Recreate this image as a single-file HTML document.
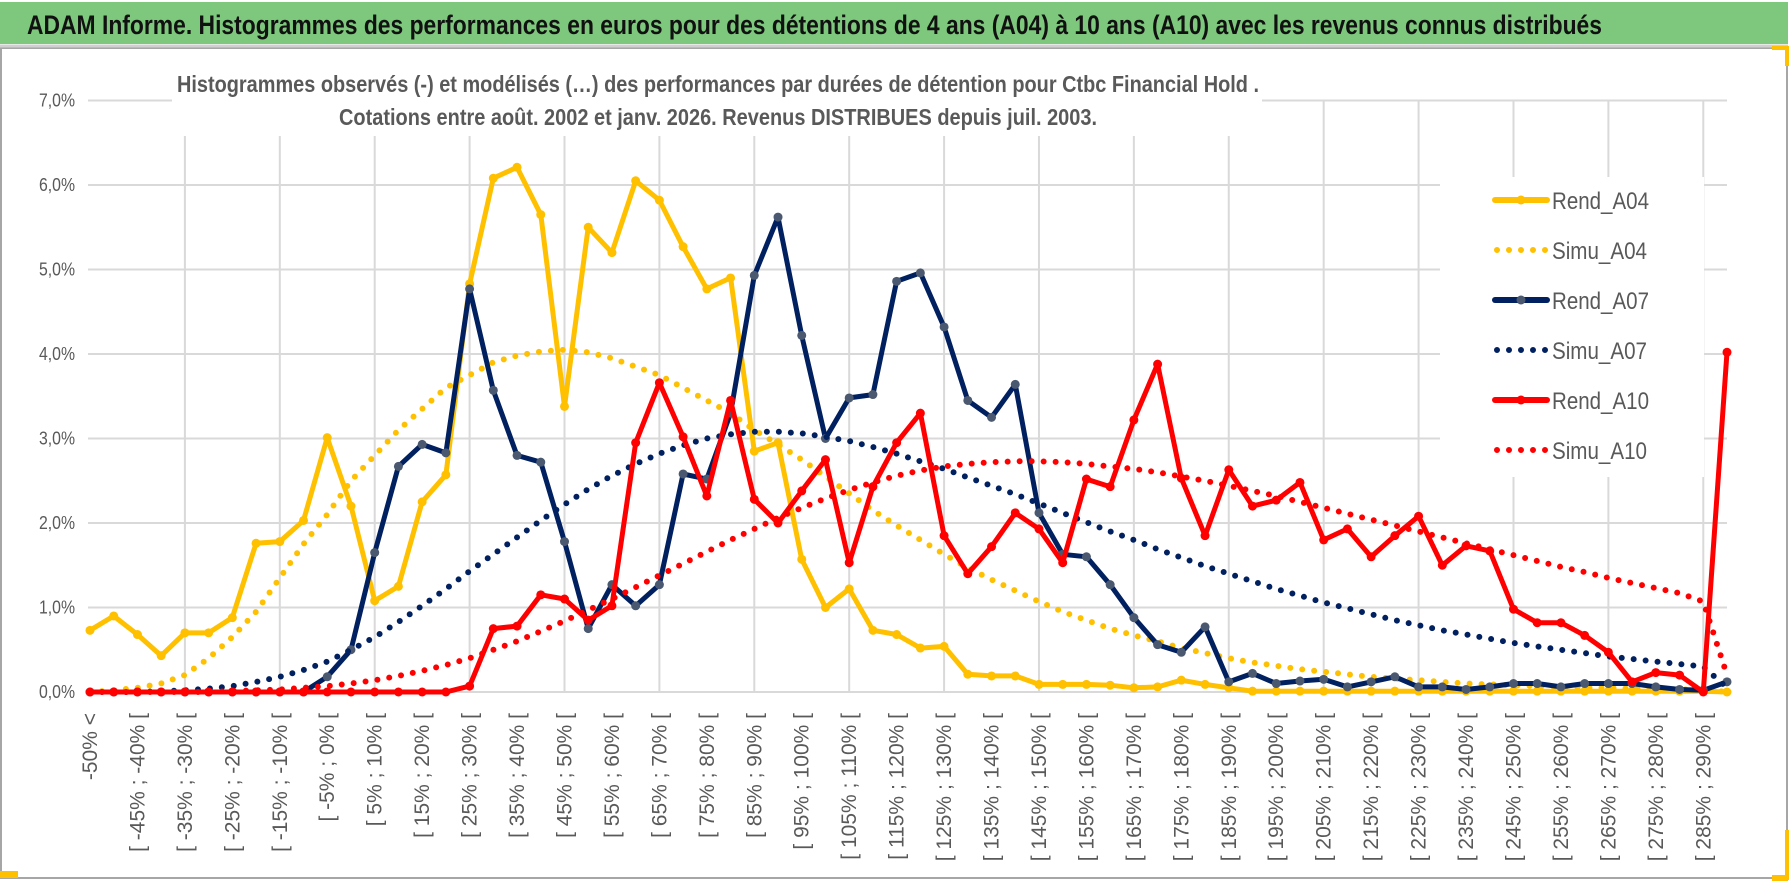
<!DOCTYPE html>
<html><head><meta charset="utf-8"><style>
html,body{margin:0;padding:0;background:#fff;}
svg{display:block;font-family:"Liberation Sans",sans-serif;}
</style></head><body>
<svg id="chart" width="1790" height="888" viewBox="0 0 1790 888">
<rect x="0" y="0" width="1790" height="888" fill="#fff"/>
<rect x="1" y="48" width="1786" height="830" fill="#fff" stroke="#a6a6a6" stroke-width="2"/>
<rect x="0" y="2" width="1788" height="42" fill="#7dc87d"/>
<line x1="0" y1="46" x2="1788" y2="46" stroke="#d0d0d0" stroke-width="3"/>
<text x="27" y="34" font-size="27" font-weight="bold" fill="#111" textLength="1575" lengthAdjust="spacingAndGlyphs">ADAM Informe. Histogrammes des performances en euros pour des détentions de 4 ans (A04) à 10 ans (A10) avec les revenus connus distribués</text>
<rect x="0" y="871" width="18" height="7" fill="#ffc000"/>
<rect x="1772" y="46" width="16" height="4" fill="#ffc000"/>
<rect x="1785" y="46" width="4" height="20" fill="#ffc000"/>
<rect x="1772" y="875" width="16" height="6" fill="#ffc000"/>
<rect x="1785" y="830" width="4" height="50" fill="#ffc000"/>
<g id="grid"></g>
<g id="yaxis"></g>
<g id="xaxis"></g>
<rect x="172" y="62" width="1090" height="74" fill="#fff"/>
<text x="718" y="92" font-size="23" font-weight="bold" fill="#595959" text-anchor="middle" textLength="1082" lengthAdjust="spacingAndGlyphs">Histogrammes observés (-) et modélisés (…) des performances par durées de détention pour Ctbc Financial Hold .</text>
<text x="718" y="125" font-size="23" font-weight="bold" fill="#595959" text-anchor="middle" textLength="758" lengthAdjust="spacingAndGlyphs">Cotations entre août. 2002 et janv. 2026. Revenus DISTRIBUES depuis juil. 2003.</text>
<g id="series"></g>
<rect x="1440" y="177" width="264" height="300" fill="#fff"/>
<g id="legend"></g>
</svg>
<script>
const categories = (function(){const c=["-50% <"];for(let a=-50;a<290;a+=5){c.push("[ "+a+"% ; "+(a+5)+"% [");}c.push("290% <");return c;})();
const yTicks = [0,1,2,3,4,5,6,7];
const yTickLabels = ["0,0%","1,0%","2,0%","3,0%","4,0%","5,0%","6,0%","7,0%"];
const rendA04 = [0.73,0.90,0.68,0.43,0.70,0.70,0.88,1.76,1.78,2.03,3.01,2.20,1.08,1.25,2.25,2.57,4.83,6.08,6.21,5.65,3.38,5.50,5.20,6.05,5.82,5.27,4.77,4.90,2.85,2.95,1.57,1.00,1.22,0.73,0.68,0.52,0.54,0.21,0.19,0.19,0.09,0.09,0.09,0.08,0.05,0.06,0.14,0.09,0.05,0.01,0.01,0.01,0.01,0.01,0.01,0.01,0.01,0.01,0.01,0.01,0.01,0.01,0.01,0.01,0.01,0.01,0.01,0.01,0.01,0.0];
const simuA04 = [0,0.02,0.05,0.1,0.2,0.4,0.65,0.95,1.35,1.75,2.1,2.5,2.8,3.1,3.35,3.6,3.75,3.9,3.98,4.03,4.05,4.02,3.95,3.85,3.75,3.6,3.45,3.3,3.1,2.93,2.75,2.55,2.35,2.15,1.97,1.8,1.63,1.47,1.33,1.2,1.07,0.95,0.85,0.75,0.67,0.6,0.52,0.46,0.4,0.35,0.31,0.27,0.24,0.21,0.18,0.16,0.14,0.12,0.1,0.09,0.08,0.07,0.06,0.05,0.05,0.04,0.04,0.03,0.03,0.0];
const rendA07 = [0,0,0,0,0,0,0,0,0,0,0.18,0.5,1.65,2.67,2.93,2.83,4.77,3.57,2.8,2.72,1.78,0.75,1.27,1.02,1.27,2.58,2.52,3.3,4.93,5.62,4.22,3.0,3.48,3.52,4.86,4.96,4.32,3.45,3.25,3.64,2.12,1.63,1.6,1.27,0.88,0.56,0.47,0.77,0.12,0.22,0.1,0.13,0.15,0.06,0.12,0.18,0.06,0.06,0.03,0.06,0.1,0.1,0.06,0.1,0.1,0.1,0.06,0.03,0.02,0.12];
const simuA07 = [0,0,0,0.01,0.02,0.04,0.07,0.12,0.18,0.26,0.36,0.5,0.65,0.83,1.02,1.22,1.43,1.63,1.83,2.03,2.22,2.4,2.56,2.7,2.82,2.92,3.0,3.05,3.08,3.08,3.06,3.02,2.97,2.9,2.82,2.73,2.64,2.54,2.44,2.34,2.23,2.12,2.01,1.9,1.8,1.69,1.59,1.49,1.4,1.31,1.22,1.14,1.06,0.99,0.92,0.85,0.79,0.73,0.68,0.63,0.58,0.54,0.5,0.46,0.42,0.39,0.36,0.33,0.3,0.05];
const rendA10 = [0,0,0,0,0,0,0,0,0,0,0,0,0,0,0,0,0.07,0.75,0.78,1.15,1.1,0.85,1.02,2.95,3.66,3.02,2.32,3.45,2.28,2.0,2.38,2.75,1.53,2.43,2.95,3.3,1.85,1.4,1.72,2.12,1.93,1.53,2.52,2.43,3.22,3.88,2.53,1.85,2.63,2.2,2.27,2.48,1.8,1.93,1.6,1.85,2.08,1.5,1.73,1.67,0.98,0.82,0.82,0.67,0.47,0.12,0.23,0.2,0.0,4.02];
const simuA10 = [0,0,0,0,0,0,0.01,0.02,0.03,0.05,0.07,0.1,0.14,0.19,0.25,0.32,0.4,0.5,0.6,0.72,0.84,0.97,1.1,1.24,1.38,1.52,1.66,1.8,1.93,2.06,2.18,2.29,2.39,2.48,2.56,2.62,2.67,2.7,2.72,2.73,2.73,2.72,2.7,2.67,2.64,2.6,2.55,2.5,2.44,2.38,2.32,2.25,2.18,2.11,2.04,1.97,1.9,1.83,1.76,1.69,1.62,1.55,1.48,1.42,1.35,1.29,1.23,1.17,1.07,0.2];

const NS="http://www.w3.org/2000/svg";
const X0=90, X1=1727, Y0=692, YPER=84.5;
function xs(i){return X0+(X1-X0)*i/(categories.length-1);}
function ys(v){return Y0-v*YPER;}
function mk(tag,attrs,parent){const e=document.createElementNS(NS,tag);for(const k in attrs)e.setAttribute(k,attrs[k]);parent.appendChild(e);return e;}

const grid=document.getElementById('grid');
yTicks.forEach(function(t){
  const l=mk('line',{x1:88,x2:X1,y1:ys(t),y2:ys(t),stroke:'#d9d9d9','stroke-width':2},grid);
  
  
});
for(let i=4;i<categories.length;i+=4){
  const l=mk('line',{x1:xs(i),x2:xs(i),y1:ys(7),y2:Y0,stroke:'#d9d9d9','stroke-width':2},grid);
  
  
}
const ya=document.getElementById('yaxis');
yTicks.forEach(function(t,k){
  const tx=mk('text',{x:75,y:ys(t)+6,'font-size':18,fill:'#595959','text-anchor':'end',textLength:36,lengthAdjust:'spacingAndGlyphs'},ya);
  tx.textContent=yTickLabels[k];
  
  
});
const xa=document.getElementById('xaxis');
categories.forEach(function(c,i){
  if(i%2) return;
  const x=xs(i)+7, y=713;
  const tx=mk('text',{x:x,y:y,'font-size':21,fill:'#595959','text-anchor':'end',transform:'rotate(-90 '+x+' '+y+')'},xa);
  tx.textContent=c;
  
  
});

const seriesList=[
 {name:'Rend_A04',data:rendA04,color:'#ffc000',dotted:false,marker:'#ffc000'},
 {name:'Simu_A04',data:simuA04,color:'#ffc000',dotted:true},
 {name:'Rend_A07',data:rendA07,color:'#002060',dotted:false,marker:'#4a5870'},
 {name:'Simu_A07',data:simuA07,color:'#002060',dotted:true},
 {name:'Rend_A10',data:rendA10,color:'#ff0000',dotted:false,marker:'#ff0000'},
 {name:'Simu_A10',data:simuA10,color:'#ff0000',dotted:true}
];
const sl=document.getElementById('series');
seriesList.forEach(function(s){
  const g=mk('g',{},sl);
  
  
  const pts=s.data.map(function(v,i){return xs(i).toFixed(1)+','+ys(v).toFixed(1);}).join(' ');
  const attrs={points:pts,fill:'none',stroke:s.color,'stroke-linejoin':'round'};
  if(s.dotted){attrs['stroke-width']=6;attrs['stroke-dasharray']='0 12';attrs['stroke-linecap']='round';}
  else{attrs['stroke-width']=5;}
  const pl=mk('polyline',attrs,g);
  
  
  if(!s.dotted){
    s.data.forEach(function(v,i){
      const c=mk('circle',{cx:xs(i),cy:ys(v),r:4.5,fill:s.marker},g);
      
      
    });
  }
});

const lg=document.getElementById('legend');
seriesList.forEach(function(s,k){
  const y=200+k*50;
  const g=mk('g',{},lg);
  
  
  if(s.dotted){
    mk('line',{x1:1497,x2:1546,y1:y,y2:y,stroke:s.color,'stroke-width':6,'stroke-dasharray':'0 12','stroke-linecap':'round'},g);
  } else {
    mk('line',{x1:1495,x2:1547,y1:y,y2:y,stroke:s.color,'stroke-width':6,'stroke-linecap':'round'},g);
    mk('circle',{cx:1521,cy:y,r:4.5,fill:s.marker},g);
  }
  const t=mk('text',{x:1552,y:y+9,'font-size':24,fill:'#595959',textLength:s.name.indexOf('Rend')===0?97:95,lengthAdjust:'spacingAndGlyphs'},g);
  t.textContent=s.name;
});
</script>
</body></html>
